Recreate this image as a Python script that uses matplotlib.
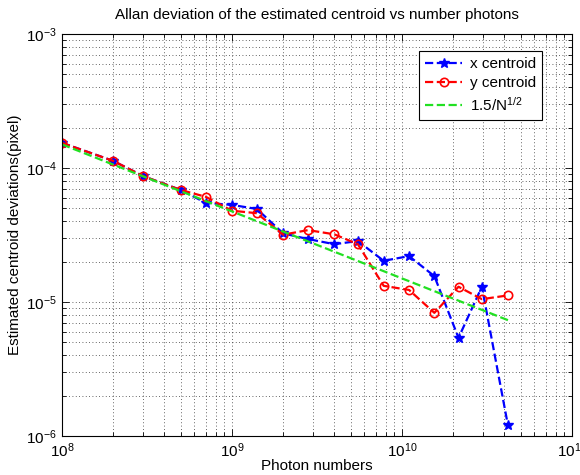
import numpy as np
import matplotlib
matplotlib.use("Agg")
import matplotlib.pyplot as plt
from matplotlib.ticker import LogLocator, NullFormatter

plt.rcParams['font.family'] = ['Liberation Sans', 'DejaVu Sans']
plt.rcParams['mathtext.default'] = 'regular'

# Number of photons per measurement
photons = [1e8, 2e8, 3e8, 5e8, 7e8, 1e9, 1.4e9, 2e9, 2.8e9, 4e9,
           5.5e9, 7.8e9, 1.1e10, 1.55e10, 2.15e10, 2.95e10, 4.2e10]

# Allan deviation of the centroid estimate (pixel)
x_centroid = [1.54e-4, 1.13e-4, 8.7e-5, 6.85e-5, 5.5e-5, 5.3e-5, 4.95e-5,
              3.25e-5, 2.95e-5, 2.7e-5, 2.85e-5, 2.03e-5, 2.2e-5, 1.56e-5,
              5.4e-6, 1.3e-5, 1.2e-6]
y_centroid = [1.54e-4, 1.13e-4, 8.7e-5, 6.85e-5, 6.1e-5, 4.8e-5, 4.6e-5,
              3.18e-5, 3.44e-5, 3.2e-5, 2.7e-5, 1.32e-5, 1.23e-5, 8.3e-6,
              1.3e-5, 1.05e-5, 1.12e-5]

# Photon-noise reference law
ref_coeff = 1.5
N = np.array(photons)
reference = ref_coeff / np.sqrt(N)

fig = plt.figure(figsize=(5.8, 4.75), dpi=100)
ax = fig.add_axes([62 / 580, 39 / 475, 510 / 580, 402 / 475])

ax.loglog(photons, x_centroid, '--', color='#0000ff', lw=1.6,
          marker='*', ms=7, mfc='#0000ff', mec='#0000ff', label='x centroid')
ax.loglog(photons, y_centroid, '--', color='#ff0000', lw=1.6,
          marker='o', ms=6, mfc='none', mec='#ff0000', mew=1.2, label='y centroid')
ax.loglog(photons, reference, '--', color='#22e022', lw=1.6,
          label='1.5/N$^{1/2}$')

ax.set_xlim(1e8, 1e11)
ax.set_ylim(1e-6, 1e-3)

ax.xaxis.set_major_locator(LogLocator(base=10, numticks=10))
ax.yaxis.set_major_locator(LogLocator(base=10, numticks=10))
ax.xaxis.set_minor_locator(LogLocator(base=10, subs=np.arange(2, 10), numticks=30))
ax.yaxis.set_minor_locator(LogLocator(base=10, subs=np.arange(2, 10), numticks=30))
ax.xaxis.set_minor_formatter(NullFormatter())
ax.yaxis.set_minor_formatter(NullFormatter())

ax.grid(True, which='both', linestyle=(0, (1, 3)), color='black', lw=0.6, alpha=0.8)
ax.tick_params(which='both', direction='in', top=True, right=True, labelsize=11)
ax.tick_params(axis='x', which='major', pad=4)
ax.tick_params(which='major', length=5, width=0.6)
ax.tick_params(which='minor', length=3, width=0.6)
for s in ax.spines.values():
    s.set_linewidth(0.8)

ax.set_title('Allan deviation of the estimated centroid vs number photons',
             fontsize=11, pad=11)
ax.set_xlabel('Photon numbers', fontsize=11, labelpad=-1)
ax.set_ylabel('Estimated centroid deviations(pixel)', fontsize=11, labelpad=3)

leg = ax.legend(loc='upper right', bbox_to_anchor=(0.941, 0.958), fontsize=11,
                frameon=True, fancybox=False, framealpha=1, edgecolor='black',
                handlelength=2.4, borderpad=0.4, labelspacing=0.35,
                borderaxespad=0, handletextpad=0.5)
leg.get_frame().set_linewidth(0.8)

fig.savefig('out.png', dpi=100)
